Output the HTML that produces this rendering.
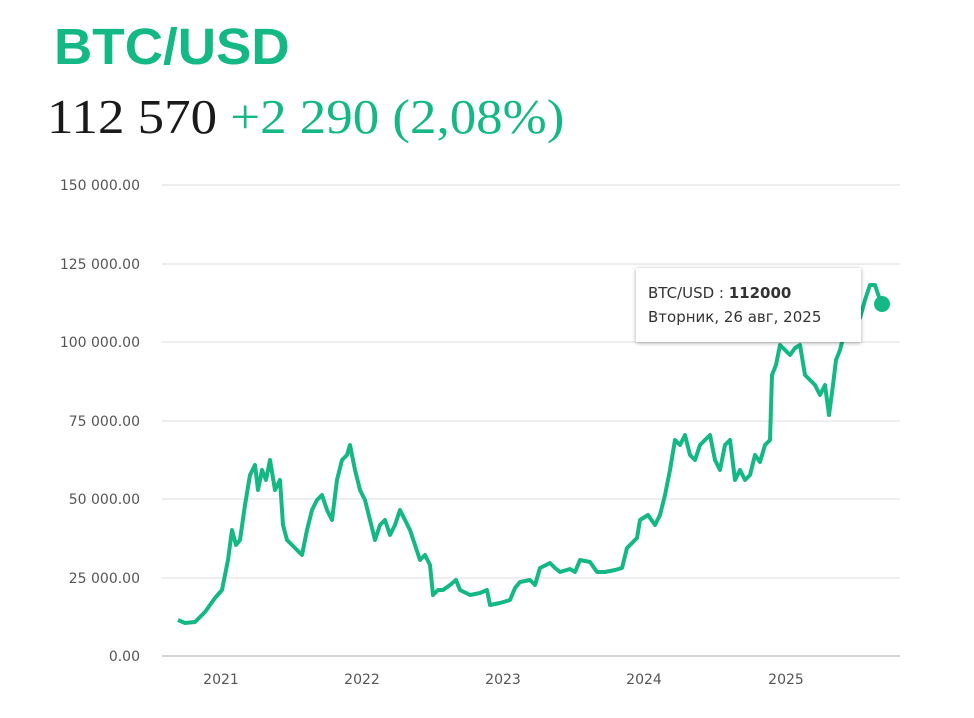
<!DOCTYPE html>
<html><head><meta charset="utf-8"><style>
body{margin:0;width:974px;height:718px;background:#fff;overflow:hidden;position:relative;font-family:"Liberation Sans",sans-serif}
.t{position:absolute;left:54px;top:17px;font-size:51px;font-weight:bold;color:#14b884;transform:scaleX(1.04);transform-origin:left}
.p{position:absolute;left:47px;top:88px;font-family:"Liberation Serif",serif;font-size:49px;color:#1a1a1a;transform:scaleX(1.08);transform-origin:left;white-space:nowrap}
.p span{color:#14b884}
.tip{position:absolute;left:636px;top:268px;width:225px;height:74px;background:#fff;box-shadow:0 1px 4px rgba(0,0,0,.35);font-family:"DejaVu Sans",sans-serif;font-size:15px;color:#333;box-sizing:border-box;padding:13px 0 0 12px;line-height:24px}
</style></head><body>
<div class="t">BTC/USD</div>
<div class="p">112 570 <span>+2 290 (2,08%)</span></div>
<svg width="974" height="718" style="position:absolute;left:0;top:0">
<g stroke="#e3e3e3" stroke-width="1.3">
<line x1="162" x2="900" y1="185" y2="185"/><line x1="162" x2="900" y1="264" y2="264"/><line x1="162" x2="900" y1="342" y2="342"/><line x1="162" x2="900" y1="421" y2="421"/><line x1="162" x2="900" y1="499" y2="499"/><line x1="162" x2="900" y1="578" y2="578"/></g>
<line x1="162" x2="900" y1="656" y2="656" stroke="#bbb" stroke-width="1.3"/>
<g font-family="DejaVu Sans,sans-serif" font-size="14" fill="#555" text-anchor="end">
<text x="140" y="190">150 000.00</text><text x="140" y="269">125 000.00</text><text x="140" y="347">100 000.00</text><text x="140" y="426">75 000.00</text><text x="140" y="504">50 000.00</text><text x="140" y="583">25 000.00</text><text x="140" y="661">0.00</text></g>
<g font-family="DejaVu Sans,sans-serif" font-size="14" fill="#555" text-anchor="middle">
<text x="221" y="684">2021</text><text x="362" y="684">2022</text><text x="503" y="684">2023</text><text x="644" y="684">2024</text><text x="786" y="684">2025</text></g>
<polyline fill="none" stroke="#14b884" stroke-width="4" stroke-linejoin="round" points="178,620 185,623 195,622 205,612 215,598 222,590 228,560 232,530 236,545 240,540 245,505 250,475 255,465 258,490 262,470 266,480 270,460 275,490 280,480 283,525 287,540 292,545 297,550 302,555 307,530 312,510 317,500 322,495 327,510 332,520 337,480 342,460 347,455 350,445 355,470 360,490 365,500 370,520 375,540 380,525 385,520 390,535 395,525 400,510 405,520 410,530 415,545 420,560 425,555 430,565 433,595 438,590 443,590 450,585 456,580 460,590 470,595 480,593 487,590 490,605 500,603 510,600 515,588 520,582 530,580 535,585 540,568 550,563 555,568 560,572 570,569 575,572 580,560 590,562 597,572 605,572 615,570 622,568 627,548 637,538 640,520 648,515 655,525 660,515 665,495 670,470 675,440 680,445 685,435 690,455 695,460 700,445 705,440 710,435 715,460 720,470 725,445 730,440 735,480 740,470 745,480 750,475 755,455 760,462 765,445 770,440 772,375 776,365 780,345 785,350 790,355 795,348 800,345 805,375 810,380 815,385 820,395 825,385 829,415 833,385 836,360 840,350 845,330 850,320 855,315 860,318 865,300 870,285 875,285 880,300 882,304"/>
<circle cx="882" cy="304" r="8" fill="#14b884"/>
</svg>
<div class="tip">BTC/USD : <b>112000</b><br>Вторник, 26 авг, 2025</div>
</body></html>
